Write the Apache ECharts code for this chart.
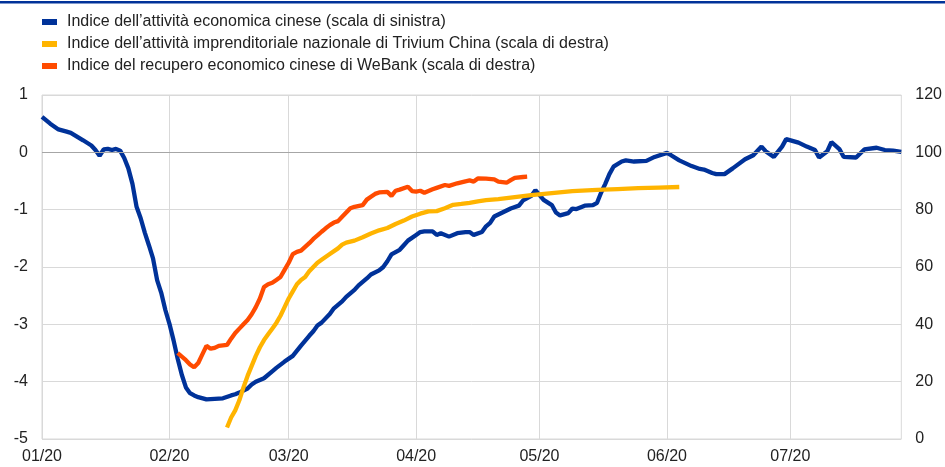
<!DOCTYPE html>
<html><head><meta charset="utf-8">
<script src="https://cdn.jsdelivr.net/npm/echarts@6/dist/echarts.min.js"></script>
<style>html,body{margin:0;padding:0;background:#fff}#c{width:945px;height:467px}</style>
</head><body><div id="c"></div><script>
// x positions are days since 1 January 2020
const monthStartDays = [0, 31, 60, 91, 121, 152, 182];
const monthLabels = ['01/20', '02/20', '03/20', '04/20', '05/20', '06/20', '07/20'];
const xMaxDay = 209;
const leftTicks = [-5, -4, -3, -2, -1, 0, 1];
const rightTicks = [0, 20, 40, 60, 80, 100, 120];

const seriesNames = [
  'Indice dell\u2019attività economica cinese (scala di sinistra)',
  'Indice dell\u2019attività imprenditoriale nazionale di Trivium China (scala di destra)',
  'Indice del recupero economico cinese di WeBank (scala di destra)'
];

const blueDays = [0,2,4,6,7,10,12,13,14,15,16,17,18,19,20,21,22,23,24,25,26,27,28,29,30,31,32,33,34,35,36,37,38,40,42,44,46,47,48,50,51,52,54,56,57,59,61,63,65,66,67,68,70,71,73,74,76,77,79,80,82,83,84,85,87,88,89,91,92,93,95,96,97,99,101,103,104,105,107,108,109,110,112,114,116,117,118,119,120,122,124,125,126,128,129,130,132,134,135,136,137,138,139,141,142,144,147,149,152,153,155,158,160,161,163,164,166,168,171,173,175,176,178,180,181,184,186,188,189,191,192,194,195,198,200,203,205,207,209];
const blueValues = [0.62,0.5,0.40,0.36,0.34,0.21,0.12,0.04,-0.06,0.05,0.06,0.04,0.06,0.03,-0.10,-0.28,-0.55,-0.95,-1.15,-1.4,-1.62,-1.85,-2.23,-2.45,-2.75,-2.99,-3.28,-3.6,-3.88,-4.1,-4.2,-4.24,-4.27,-4.31,-4.3,-4.29,-4.24,-4.22,-4.19,-4.12,-4.05,-4.0,-3.94,-3.82,-3.76,-3.65,-3.55,-3.37,-3.2,-3.12,-3.02,-2.97,-2.82,-2.72,-2.6,-2.52,-2.4,-2.32,-2.2,-2.13,-2.06,-2.0,-1.9,-1.78,-1.7,-1.62,-1.54,-1.44,-1.39,-1.38,-1.38,-1.44,-1.41,-1.47,-1.41,-1.39,-1.39,-1.44,-1.39,-1.29,-1.23,-1.12,-1.05,-0.98,-0.93,-0.84,-0.8,-0.76,-0.66,-0.83,-0.92,-1.05,-1.1,-1.06,-0.98,-0.99,-0.93,-0.92,-0.88,-0.7,-0.55,-0.38,-0.25,-0.16,-0.14,-0.16,-0.15,-0.08,-0.01,-0.05,-0.14,-0.24,-0.29,-0.3,-0.36,-0.38,-0.38,-0.28,-0.12,-0.05,0.10,0.02,-0.08,0.1,0.23,0.17,0.1,0.04,-0.09,0.02,0.18,0.05,-0.08,-0.09,0.05,0.08,0.04,0.03,0.01];

const yellowDays = [45,46,47,48,49,50,51,52,53,54,55,56,57,58,59,60,61,62,63,64,65,66,67,68,70,72,73,74,76,78,80,82,84,86,88,90,92,94,96,98,100,102,104,106,108,111,115,119,124,129,135,140,145,150,155];
const yellowValues = [4,7.5,10,13.5,18,22,25.5,29,32,34.5,36.5,38.5,40.5,43,46,49,51.5,54,55.5,56.5,58.5,60,61.5,62.5,64.5,66.5,67.8,68.5,69.2,70.4,71.7,72.8,73.6,75,76.2,77.6,78.6,79.4,79.5,80.5,81.7,82,82.4,82.9,83.3,83.7,84.4,85.1,85.8,86.5,86.9,87.2,87.5,87.7,87.9];

const orangeDays = [33,35,36,37,38,39,40,41,42,43,45,46,47,48,49,50,51,52,53,54,55,56,57,58,59,60,61,62,63,64,65,66,67,68,69,70,71,72,73,74,75,76,78,79,80,81,82,84,85,86,87,89,90,91,92,93,94,95,96,98,99,101,103,104,105,106,108,110,111,113,114,115,117,118];
const orangeValues = [30,27.5,26,25,26.5,29.5,32.5,31.5,31.8,32.5,32.8,35,37,38.5,40,41.5,43.5,46,49,53,54,54.5,55.5,56.5,59,61.5,64.5,65.3,65.7,67,68.3,69.8,71,72.3,73.5,74.6,75.5,76,77.5,79,80.5,81,81.6,83.5,84.5,85.5,86,86.2,84.8,86.6,87,88,86.5,86.3,86.6,85.9,86.5,87.1,87.6,88.6,88.3,89.2,89.9,90.2,89.8,90.9,90.8,90.6,89.8,89.4,90.3,91.1,91.4,91.5];

const zip = (xs, ys) => xs.map((x, i) => [x, ys[i]]);
const FONT = 'Liberation Sans, Arial, sans-serif';
const TXT = '#222222';
const GRID = '#d9d9d9';

const chart = echarts.init(document.getElementById('c'), null, {renderer: 'canvas'});
chart.setOption({
  animation: false,
  backgroundColor: '#ffffff',
  textStyle: {fontFamily: FONT},
  graphic: [{type: 'rect', left: 0, top: 1, shape: {width: 945, height: 2.5}, style: {fill: '#003299'}, silent: true}],
  legend: {
    orient: 'vertical', left: 42, top: 14, padding: 0, itemWidth: 15, itemHeight: 6, itemGap: 6,
    icon: 'rect',
    textStyle: {fontSize: 16, color: TXT, fontFamily: FONT, lineHeight: 16, padding: [0, 0, 0, 5]},
    data: seriesNames
  },
  grid: {left: 42, right: 43, top: 95, bottom: 28, show: true, borderColor: GRID, borderWidth: 1},
  xAxis: {
    type: 'value', min: 0, max: xMaxDay,
    axisLine: {show: false},
    axisTick: {show: false, customValues: monthStartDays},
    axisLabel: {customValues: monthStartDays, fontSize: 16, color: TXT, margin: 10, fontFamily: FONT,
      formatter: v => monthLabels[monthStartDays.indexOf(v)] || ''},
    splitLine: {show: true, lineStyle: {color: GRID, width: 1}}
  },
  yAxis: [
    {type: 'value', min: leftTicks[0], max: leftTicks[leftTicks.length - 1], interval: 1, position: 'left',
     axisLine: {show: false}, axisTick: {show: false},
     axisLabel: {fontSize: 16, color: TXT, margin: 14, fontFamily: FONT},
     splitLine: {show: true, lineStyle: {color: GRID, width: 1}}},
    {type: 'value', min: rightTicks[0], max: rightTicks[rightTicks.length - 1], interval: 20, position: 'right',
     axisLine: {show: false}, axisTick: {show: false},
     axisLabel: {fontSize: 16, color: TXT, margin: 14, fontFamily: FONT},
     splitLine: {show: false}}
  ],
  series: [
    {name: seriesNames[0], type: 'line', yAxisIndex: 0, data: zip(blueDays, blueValues), showSymbol: false, symbol: 'none',
     color: '#003299', lineStyle: {width: 4.3, color: '#003299'},
     markLine: {silent: true, symbol: 'none', label: {show: false}, animation: false,
       lineStyle: {color: '#a6a6a6', type: 'solid', width: 1.2}, data: [{yAxis: 0}]}},
    {name: seriesNames[1], type: 'line', yAxisIndex: 1, data: zip(yellowDays, yellowValues), showSymbol: false, symbol: 'none',
     color: '#ffb400', lineStyle: {width: 4.3, color: '#ffb400'}},
    {name: seriesNames[2], type: 'line', yAxisIndex: 1, data: zip(orangeDays, orangeValues), showSymbol: false, symbol: 'none',
     color: '#ff4b00', lineStyle: {width: 4.3, color: '#ff4b00'}}
  ]
});
</script></body></html>
